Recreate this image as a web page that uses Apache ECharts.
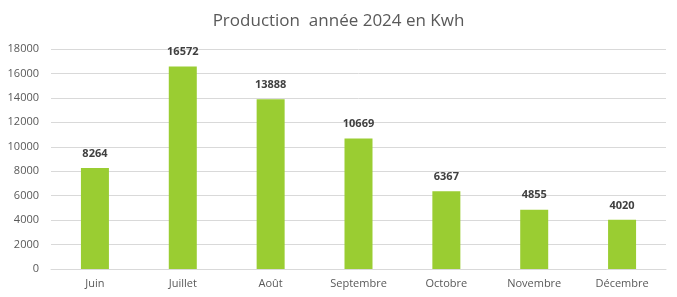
<!DOCTYPE html>
<html><head><meta charset="utf-8">
<script src="https://cdn.jsdelivr.net/npm/echarts@6/dist/echarts.min.js"></script>
<style>html,body{margin:0;padding:0;background:#fff}#c{width:677px;height:297px}</style>
</head><body><div id="c"></div>
<script>
const categories = ["Juin","Juillet","Août","Septembre","Octobre","Novembre","Décembre"];
const production = [8264,16572,13888,10669,6367,4855,4020];
const yTicks = {min:0,max:18000,interval:2000};
const chart = echarts.init(document.getElementById('c'));
chart.setOption({
  animation:false,
  title:{text:"Production  année 2024 en Kwh",left:'center',top:8,
    textStyle:{fontFamily:'Open Sans',fontWeight:'normal',fontSize:17,color:'#595959'}},
  grid:{left:51,right:11,top:49,bottom:28},
  xAxis:{type:'category',data:categories,
    axisLine:{lineStyle:{color:'#d9d9d9'}},axisTick:{show:false},
    axisLabel:{color:'#595959',fontSize:11,fontFamily:'Open Sans',margin:9}},
  yAxis:{type:'value',min:yTicks.min,max:yTicks.max,interval:yTicks.interval,
    axisLine:{show:false},axisTick:{show:false},
    splitLine:{lineStyle:{color:'#d9d9d9'}},
    axisLabel:{color:'#595959',fontSize:11,fontFamily:'Open Sans',margin:12,formatter:v=>String(v)}},
  series:[{type:'bar',data:production,barWidth:28,
    itemStyle:{color:'#9acd32'},
    label:{show:true,position:'top',distance:9,fontWeight:'bold',fontSize:11,color:'#404040',fontFamily:'Open Sans'}}]
});
</script></body></html>
